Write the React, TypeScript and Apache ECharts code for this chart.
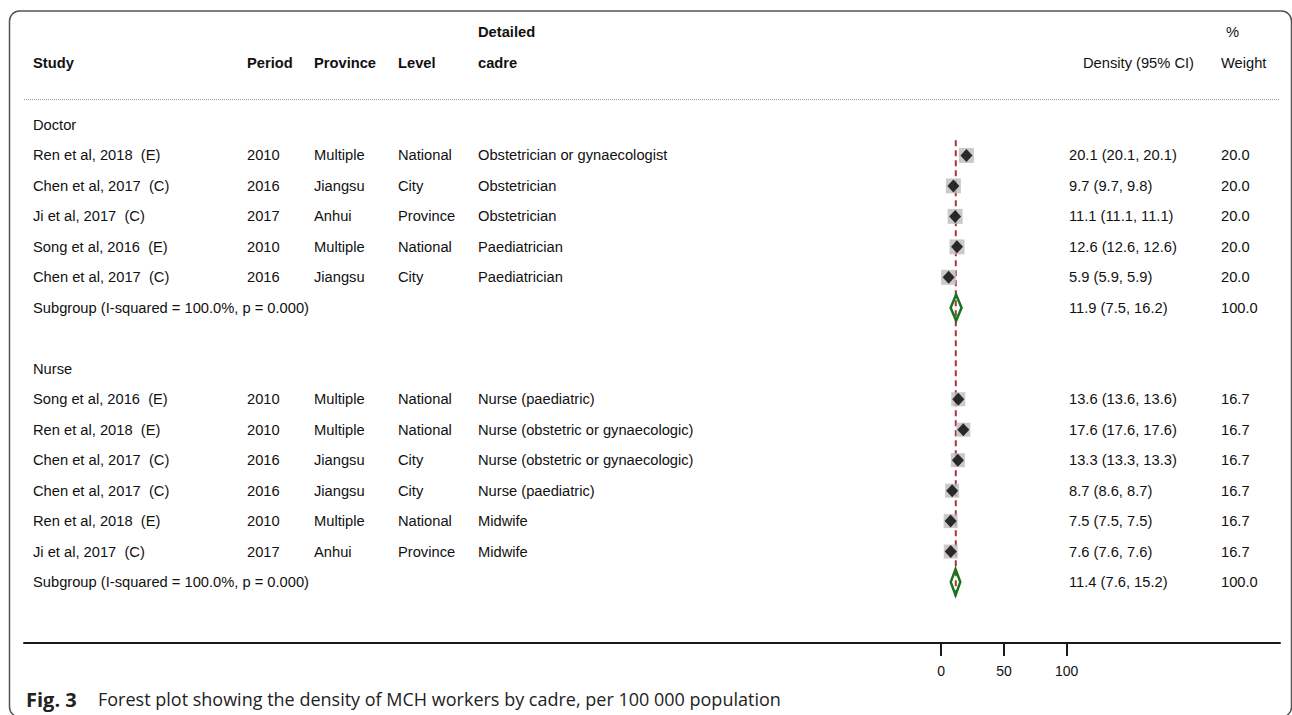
import React, { useEffect, useRef } from "react";
import * as echarts from "echarts";

// ---- data ----
const rowKinds = ["group", "study", "study", "study", "study", "study", "subgroup", "blank", "group", "study", "study", "study", "study", "study", "study", "subgroup"];
const studyLabels = [
  "Doctor",
  "Ren et al, 2018  (E)",
  "Chen et al, 2017  (C)",
  "Ji et al, 2017  (C)",
  "Song et al, 2016  (E)",
  "Chen et al, 2017  (C)",
  "Subgroup (I-squared = 100.0%, p = 0.000)",
  "",
  "Nurse",
  "Song et al, 2016  (E)",
  "Ren et al, 2018  (E)",
  "Chen et al, 2017  (C)",
  "Chen et al, 2017  (C)",
  "Ren et al, 2018  (E)",
  "Ji et al, 2017  (C)",
  "Subgroup (I-squared = 100.0%, p = 0.000)",
];
const periods = ["", "2010", "2016", "2017", "2010", "2016", "", "", "", "2010", "2010", "2016", "2016", "2010", "2017", ""];
const provinces = ["", "Multiple", "Jiangsu", "Anhui", "Multiple", "Jiangsu", "", "", "", "Multiple", "Multiple", "Jiangsu", "Jiangsu", "Multiple", "Anhui", ""];
const levels = ["", "National", "City", "Province", "National", "City", "", "", "", "National", "National", "City", "City", "National", "Province", ""];
const cadres = [
  "",
  "Obstetrician or gynaecologist",
  "Obstetrician",
  "Obstetrician",
  "Paediatrician",
  "Paediatrician",
  "",
  "",
  "",
  "Nurse (paediatric)",
  "Nurse (obstetric or gynaecologic)",
  "Nurse (obstetric or gynaecologic)",
  "Nurse (paediatric)",
  "Midwife",
  "Midwife",
  "",
];
const estimates: (number | null)[] = [null, 20.1, 9.7, 11.1, 12.6, 5.9, 11.9, null, null, 13.6, 17.6, 13.3, 8.7, 7.5, 7.6, 11.4];
const lowers: (number | null)[] = [null, 20.1, 9.7, 11.1, 12.6, 5.9, 7.5, null, null, 13.6, 17.6, 13.3, 8.6, 7.5, 7.6, 7.6];
const uppers: (number | null)[] = [null, 20.1, 9.8, 11.1, 12.6, 5.9, 16.2, null, null, 13.6, 17.6, 13.3, 8.7, 7.5, 7.6, 15.2];
const weights = ["", "20.0", "20.0", "20.0", "20.0", "20.0", "100.0", "", "", "16.7", "16.7", "16.7", "16.7", "16.7", "16.7", "100.0"];
const overallLine = 11.6;
const refLineRows = [0.5, 15.5];
const axisTicks = [0, 50, 100];

const headerTop = ["", "", "", "", "Detailed", "", "%"];
const headerBottom = ["Study", "Period", "Province", "Level", "cadre", "Density (95% CI)", "Weight"];
const captionLabel = "Fig. 3";
const caption = "Forest plot showing the density of MCH workers by cadre, per 100 000 population";

// ---- layout ----
const COL_X = [33, 247, 314, 398, 478, 1069, 1221];
const HEAD_X = [33, 247, 314, 398, 478, 1083, 1221];
const HEAD_BOLD = [true, true, true, true, true, false, false];
const FONT = "Liberation Sans";
const FS = 14.7;
const TXT = "#111";

const fmt = (v: number) => v.toFixed(1);

export default function App() {
  const ref = useRef<HTMLDivElement>(null);
  useEffect(() => {
    if (!ref.current) return;
    const chart = echarts.init(ref.current, null, { renderer: "svg" });

    const textRows = rowKinds.map((_, i) => [0, i]);
    const studyPts: number[][] = [];
    const ciPts: number[][] = [];
    const subPts: number[][] = [];
    rowKinds.forEach((k, i) => {
      const e = estimates[i];
      if (k === "study" && e != null) {
        studyPts.push([e, i]);
        ciPts.push([lowers[i] as number, uppers[i] as number, i]);
      }
      if (k === "subgroup" && e != null) subPts.push([e, i, lowers[i] as number, uppers[i] as number]);
    });

    const option: any = {
      animation: false,
      grid: { left: 24, right: 12, top: 94.5, bottom: 72 },
      xAxis: {
        type: "value",
        min: -731,
        max: 270,
        position: "bottom",
        splitLine: { show: false },
        axisLine: { show: true, onZero: false, lineStyle: { color: "#1a1a1a", width: 2 } },
        axisTick: { show: true, customValues: axisTicks, length: 13, lineStyle: { color: "#1a1a1a", width: 2 } },
        axisLabel: { customValues: axisTicks, color: TXT, fontFamily: FONT, fontSize: 14, margin: 21 },
      },
      yAxis: { type: "value", min: -1, max: 17, inverse: true, show: false },
      series: [
        {
          type: "line",
          data: refLineRows.map((r) => [overallLine, r]),
          symbol: "none",
          lineStyle: { color: "#a8323e", width: 2, type: [6, 4] },
          z: 1,
        },
        {
          type: "custom",
          data: ciPts,
          renderItem: (params: any, api: any) => {
            const a = api.coord([api.value(0), api.value(2)]);
            const b = api.coord([api.value(1), api.value(2)]);
            return { type: "line", shape: { x1: a[0], y1: a[1], x2: b[0], y2: b[1] }, style: { stroke: "#222", lineWidth: 1 } };
          },
          z: 2,
        },
        {
          type: "scatter",
          data: studyPts,
          symbol: "rect",
          symbolSize: (v: number[]) => (v[1] < 7 ? 15 : 14),
          itemStyle: { color: "#bdbdbd" },
          z: 3,
        },
        {
          type: "scatter",
          data: studyPts,
          symbol: "diamond",
          symbolSize: [12, 13],
          itemStyle: { color: "#000" },
          z: 4,
        },
        {
          type: "custom",
          data: subPts,
          renderItem: (params: any, api: any) => {
            const c = api.coord([api.value(0), api.value(1)]);
            const lo = api.coord([api.value(2), api.value(1)]);
            const hi = api.coord([api.value(3), api.value(1)]);
            const h = 13;
            return {
              type: "polygon",
              shape: { points: [[lo[0], c[1]], [c[0], c[1] - h], [hi[0], c[1]], [c[0], c[1] + h]] },
              style: { fill: "none", stroke: "#16741a", lineWidth: 2.5 },
            };
          },
          z: 5,
        },
        {
          type: "custom",
          data: textRows,
          clip: false,
          renderItem: (params: any, api: any) => {
            const i = params.dataIndex;
            const y = api.coord([0, api.value(1)])[1];
            const e = estimates[i];
            const vals = [
              studyLabels[i],
              periods[i],
              provinces[i],
              levels[i],
              cadres[i],
              e != null ? `${fmt(e)} (${fmt(lowers[i] as number)}, ${fmt(uppers[i] as number)})` : "",
              weights[i],
            ];
            return {
              type: "group",
              children: vals.map((t, c) => ({
                type: "text",
                x: COL_X[c],
                y,
                style: { text: t, fill: TXT, fontFamily: FONT, fontSize: FS, verticalAlign: "middle" },
              })),
            };
          },
          z: 6,
        },
      ],
      graphic: [
        {
          type: "rect",
          shape: { x: 9.5, y: 11, width: 1282, height: 706, r: 10 },
          style: { fill: "none", stroke: "#555", lineWidth: 1.5 },
          silent: true,
        },
        {
          type: "line",
          shape: { x1: 24, y1: 99.5, x2: 1280, y2: 99.5 },
          style: { stroke: "#9a9a9a", lineWidth: 1, lineDash: [1, 1] },
        },
        ...headerTop.map((t, c) => ({
          type: "text",
          x: HEAD_X[c] + (c === 6 ? 5 : 0),
          y: 32,
          style: { text: t, fill: TXT, fontFamily: FONT, fontSize: FS, fontWeight: HEAD_BOLD[c] ? "bold" : "normal", verticalAlign: "middle" },
        })),
        ...headerBottom.map((t, c) => ({
          type: "text",
          x: HEAD_X[c],
          y: 63,
          style: { text: t, fill: TXT, fontFamily: FONT, fontSize: FS, fontWeight: HEAD_BOLD[c] ? "bold" : "normal", verticalAlign: "middle" },
        })),
        {
          type: "text",
          x: 26,
          y: 699,
          style: { text: captionLabel, fill: "#222", fontFamily: "Open Sans", fontWeight: "bold", fontSize: 20, verticalAlign: "middle" },
        },
        {
          type: "text",
          x: 98,
          y: 699,
          style: { text: caption, fill: "#222", fontFamily: "Open Sans", fontSize: 18, verticalAlign: "middle" },
        },
      ],
    };
    chart.setOption(option);
    return () => chart.dispose();
  }, []);
  return <div ref={ref} style={{ position: "absolute", left: 0, top: 0, width: 1292, height: 715, background: "#fff" }} />;
}
